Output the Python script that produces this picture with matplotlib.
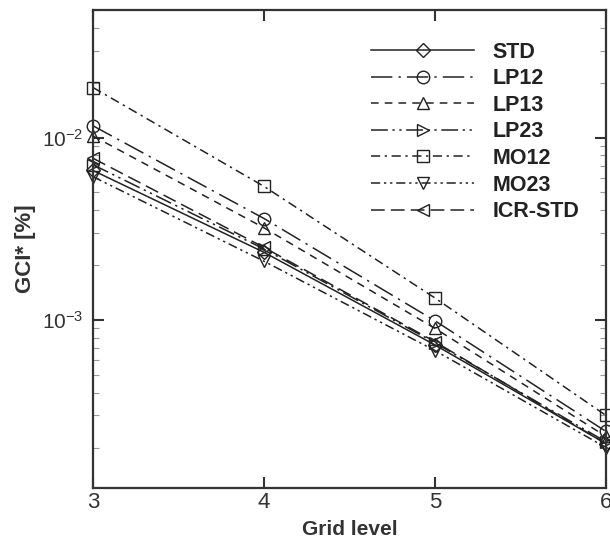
import numpy as np
import matplotlib
matplotlib.use('Agg')
import matplotlib.pyplot as plt
from matplotlib.ticker import LogLocator, NullFormatter, FixedLocator

plt.rcParams['font.family'] = ['Liberation Sans', 'DejaVu Sans']
plt.rcParams['mathtext.fontset'] = 'custom'
plt.rcParams['mathtext.rm'] = 'Liberation Sans'

# grid levels and GCI* values
grid_level = [3, 4, 5, 6]
std = [6.6e-3, 2.35e-3, 7.3e-4, 2.1e-4]
lp12 = [1.16e-2, 3.6e-3, 9.9e-4, 2.45e-4]
lp13 = [1.02e-2, 3.2e-3, 9.0e-4, 2.3e-4]
lp23 = [7.1e-3, 2.45e-3, 7.5e-4, 2.15e-4]
mo12 = [1.88e-2, 5.4e-3, 1.32e-3, 3.0e-4]
mo23 = [6.1e-3, 2.1e-3, 6.8e-4, 2.0e-4]
icr_std = [7.7e-3, 2.5e-3, 7.6e-4, 2.1e-4]

series = [
    ('STD', std, 'D', '-'),
    ('LP12', lp12, 'o', (0, (14, 4, 1.5, 4))),
    ('LP13', lp13, '^', (0, (5, 4))),
    ('LP23', lp23, '>', (0, (11, 3, 1.5, 3, 1.5, 3))),
    ('MO12', mo12, 's', (0, (6, 3, 1.5, 3))),
    ('MO23', mo23, 'v', (0, (6, 2.5, 1.5, 2.5, 1.5, 2.5))),
    ('ICR-STD', icr_std, '<', (0, (9, 4))),
]

fig = plt.figure(figsize=(6.1, 5.42), dpi=100)
ax = fig.add_axes([0.1525, 0.0996, 0.8409, 0.8819])

for name, vals, mk, ls in series:
    ax.plot(grid_level, vals, color='#222222', lw=1.1, linestyle=ls,
            marker=mk, markersize=9 if mk != 'D' else 7.5,
            markerfacecolor='none', markeredgecolor='#222222',
            markeredgewidth=1.0, clip_on=False, label=name)

ax.set_yscale('log')
ax.set_xlim(3, 6)
ax.set_ylim(1.2e-4, 5e-2)
ax.xaxis.set_major_locator(FixedLocator([3, 4, 5, 6]))
ax.yaxis.set_major_locator(LogLocator(base=10))
ax.yaxis.set_minor_locator(LogLocator(base=10, subs=np.arange(2, 10)))
ax.yaxis.set_minor_formatter(NullFormatter())

for s in ax.spines.values():
    s.set_linewidth(1.6)
    s.set_color('#333333')

ax.tick_params(which='major', direction='in', length=8, width=1.5, color='#333333',
               top=True, right=True, labelsize=16, labelcolor='#333333')
ax.tick_params(axis='y', which='major', pad=7, labelsize=15)
ax.tick_params(axis='x', which='major', pad=3)
ax.tick_params(which='minor', direction='in', length=4, width=0.8, color='#999999',
               right=True)

ax.set_xlabel('Grid level', fontsize=15, fontweight='bold', color='#333333', labelpad=5)
ax.set_ylabel('GCI* [%]', fontsize=16, fontweight='bold', color='#333333', labelpad=4)

leg = ax.legend(loc='upper left', bbox_to_anchor=(0.542, 0.934), frameon=False,
                fontsize=15.5, handlelength=4.8, handletextpad=0.85, labelspacing=0.26,
                borderpad=0, borderaxespad=0, numpoints=1)
for t in leg.get_texts():
    t.set_fontweight('bold')
    t.set_color('#222222')

fig.savefig('out.png', dpi=100)
